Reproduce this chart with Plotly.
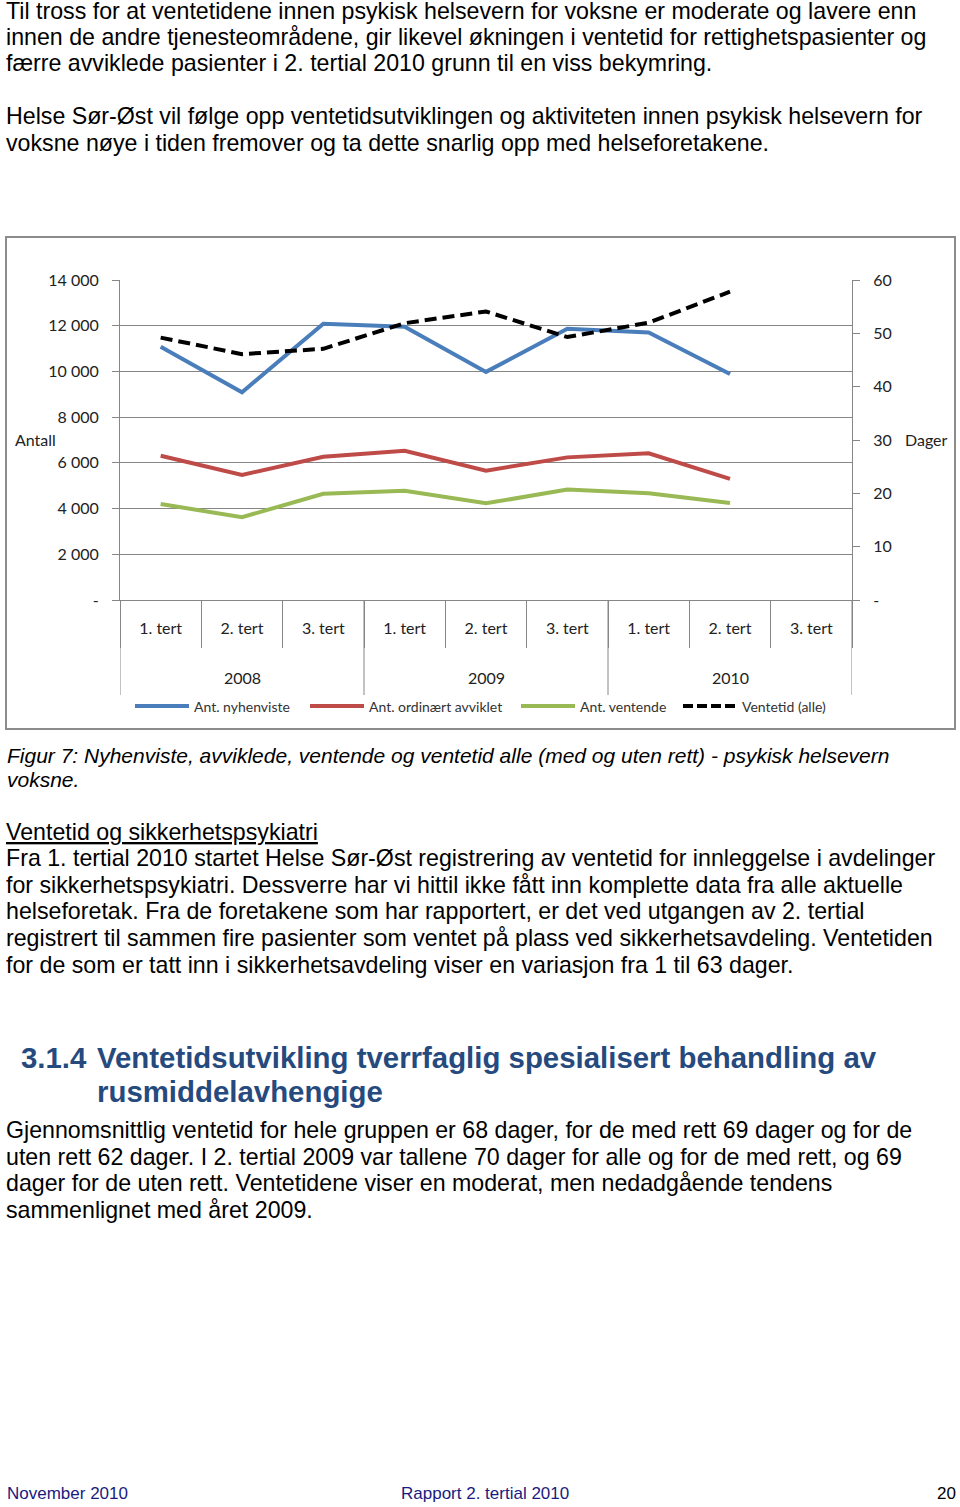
import plotly.graph_objects as go

W, H = 960, 1507

# ---------------- data ----------------
years = ["2008", "2008", "2008", "2009", "2009", "2009", "2010", "2010", "2010"]
terts = ["1. tert", "2. tert", "3. tert"] * 3
nyhenviste = [11080, 9090, 12090, 11960, 9980, 11870, 11700, 9890, None]
avviklet = [6310, 5470, 6270, 6530, 5660, 6240, 6420, 5300, None]
ventende = [4200, 3620, 4650, 4780, 4230, 4830, 4670, 4240, None]
ventetid = [49.2, 46.1, 47.1, 51.9, 54.1, 49.3, 52.0, 57.8, None]

left_ticks = [0, 2000, 4000, 6000, 8000, 10000, 12000, 14000]
left_labels = ["-", "2 000", "4 000", "6 000", "8 000", "10 000", "12 000", "14 000"]
right_ticks = [0, 10, 20, 30, 40, 50, 60]
right_labels = ["-", "10", "20", "30", "40", "50", "60"]

series_names = ["Ant. nyhenviste", "Ant. ordinært avviklet", "Ant. ventende", "Ventetid (alle)"]
series_colors = ["#4A7EBB", "#BE4B48", "#98B954", "#000000"]

# ---------------- helpers ----------------
def px(x):
    return x / W

def py(y):
    return 1 - y / H

CH = "Lato"
BODY = "Liberation Sans"
GRID = "#868686"

xpos = list(range(len(terts)))
bounds = [i - 0.5 for i in range(len(terts) + 1)]
year_names = sorted(set(years))
year_bounds = [-0.5] + [i + 0.5 for i in range(len(years) - 1) if years[i] != years[i + 1]] + [len(years) - 0.5]
year_centers = [sum(i for i, y in enumerate(years) if y == yr) / years.count(yr) for yr in year_names]

fig = go.Figure()
for vals, name, col in zip([nyhenviste, avviklet, ventende], series_names[:3], series_colors[:3]):
    fig.add_trace(go.Scatter(x=xpos, y=vals, mode="lines", name=name,
                             line=dict(color=col, width=4), yaxis="y", showlegend=False))
fig.add_trace(go.Scatter(x=xpos, y=ventetid, mode="lines", name=series_names[3],
                         line=dict(color=series_colors[3], width=4, dash="12px,6px"),
                         yaxis="y2", showlegend=False))

fig.update_layout(
    width=W, height=H,
    margin=dict(l=0, r=0, t=0, b=0, autoexpand=False),
    paper_bgcolor="white", plot_bgcolor="white",
    showlegend=False,
    xaxis=dict(domain=[px(120), px(852)], range=[-0.5, len(terts) - 0.5],
               tickmode="array", tickvals=xpos, ticktext=terts, ticks="",
               ticklabelstandoff=14,
               showline=True, linecolor=GRID, linewidth=1,
               minor=dict(tickmode="array", tickvals=bounds, ticks="outside", ticklen=47,
                          tickcolor=GRID, tickwidth=1, showgrid=False),
               tickfont=dict(family=CH, size=16, color="#222"), showgrid=False, zeroline=False),
    yaxis=dict(domain=[py(600), py(280)], range=[0, 14000],
               tickvals=left_ticks, ticktext=left_labels,
               showgrid=True, gridcolor=GRID, gridwidth=1,
               showline=True, linecolor=GRID, ticks="outside", ticklen=7, tickcolor=GRID,
               ticklabelstandoff=10,
               tickfont=dict(family=CH, size=16, color="#222"), zeroline=False),
    yaxis2=dict(overlaying="y", side="right", range=[0, 60],
                tickvals=right_ticks, ticktext=right_labels,
                showgrid=False, showline=True, linecolor=GRID,
                ticks="outside", ticklen=7, tickcolor=GRID,
                ticklabelstandoff=10,
                tickfont=dict(family=CH, size=16, color="#222"), zeroline=False),
)

shapes = []
# chart frame
shapes.append(dict(type="rect", xref="paper", yref="paper", x0=px(6), x1=px(955), y0=py(729), y1=py(237),
                   line=dict(color="#8C8C8C", width=2), layer="below"))
# year dividers
for b in year_bounds:
    shapes.append(dict(type="line", xref="x", yref="paper", x0=b, x1=b, y0=py(600), y1=py(695),
                       line=dict(color=GRID, width=1)))

ann = []
def text(x, y, s, size=23, color="black", family=BODY, xanchor="left", italic=False, xref="paper"):
    if italic:
        s = "<i>" + s + "</i>"
    ann.append(dict(xref=xref, yref="paper", x=px(x) if xref == "paper" else x, y=py(y), text=s,
                    showarrow=False, xanchor=xanchor, yanchor="middle",
                    font=dict(family=family, size=size, color=color)))

# year labels
for yr, c in zip(year_names, year_centers):
    text(c, 677, yr, size=16, family=CH, color="#222", xanchor="center", xref="x")

# axis titles
text(13, 440, "Antall", size=16, family=CH, color="#222")
text(903, 440, "Dager", size=16, family=CH, color="#222")

# legend (manual)
leg_x = [135, 310, 521, 683]
for lx, name, col, i in zip(leg_x, series_names, series_colors, range(4)):
    shapes.append(dict(type="line", xref="paper", yref="paper", x0=px(lx), x1=px(lx + 54),
                       y0=py(706), y1=py(706),
                       line=dict(color=col, width=4, dash="10px,4px" if i == 3 else "solid")))
    text(lx + 57, 706, name, size=14, family=CH, color="#333")

# page text
body = [
    (11, "Til tross for at ventetidene innen psykisk helsevern for voksne er moderate og lavere enn"),
    (37, "innen de andre tjenesteområdene, gir likevel økningen i ventetid for rettighetspasienter og"),
    (63, "færre avviklede pasienter i 2. tertial 2010 grunn til en viss bekymring."),
    (116, "Helse Sør-Øst vil følge opp ventetidsutviklingen og aktiviteten innen psykisk helsevern for"),
    (143, "voksne nøye i tiden fremover og ta dette snarlig opp med helseforetakene."),
    (858, "Fra 1. tertial 2010 startet Helse Sør-Øst registrering av ventetid for innleggelse i avdelinger"),
    (885, "for sikkerhetspsykiatri. Dessverre har vi hittil ikke fått inn komplette data fra alle aktuelle"),
    (911, "helseforetak. Fra de foretakene som har rapportert, er det ved utgangen av 2. tertial"),
    (938, "registrert til sammen fire pasienter som ventet på plass ved sikkerhetsavdeling. Ventetiden"),
    (965, "for de som er tatt inn i sikkerhetsavdeling viser en variasjon fra 1 til 63 dager."),
    (1130, "Gjennomsnittlig ventetid for hele gruppen er 68 dager, for de med rett 69 dager og for de"),
    (1157, "uten rett 62 dager. I 2. tertial 2009 var tallene 70 dager for alle og for de med rett, og 69"),
    (1183, "dager for de uten rett. Ventetidene viser en moderat, men nedadgående tendens"),
    (1210, "sammenlignet med året 2009."),
]
for y, s in body:
    text(4, y, s, size=23.2)

text(5, 755, "Figur 7: Nyhenviste, avviklede, ventende og ventetid alle (med og uten rett) - psykisk helsevern",
     size=21, italic=True)
text(5, 779, "voksne.", size=21, italic=True)
text(4, 832, "<u>Ventetid og sikkerhetspsykiatri</u>", size=23.2)

HC = "#264A7E"
text(19, 1057, "<b>3.1.4</b>", size=29.4, color=HC)
text(95, 1057, "<b>Ventetidsutvikling tverrfaglig spesialisert behandling av</b>", size=29.4, color=HC)
text(95, 1091, "<b>rusmiddelavhengige</b>", size=29.4, color=HC)

FC = "#1A1A80"
text(5, 1493, "November 2010", size=17, color=FC)
text(399, 1493, "Rapport 2. tertial 2010", size=17, color=FC)
text(958, 1493, "20", size=17, color="black", xanchor="right")

fig.update_layout(shapes=shapes, annotations=ann)
fig.write_html("out.html", config={"displayModeBar": False},
               post_script="document.body.style.margin='0';document.body.style.padding='0';")
